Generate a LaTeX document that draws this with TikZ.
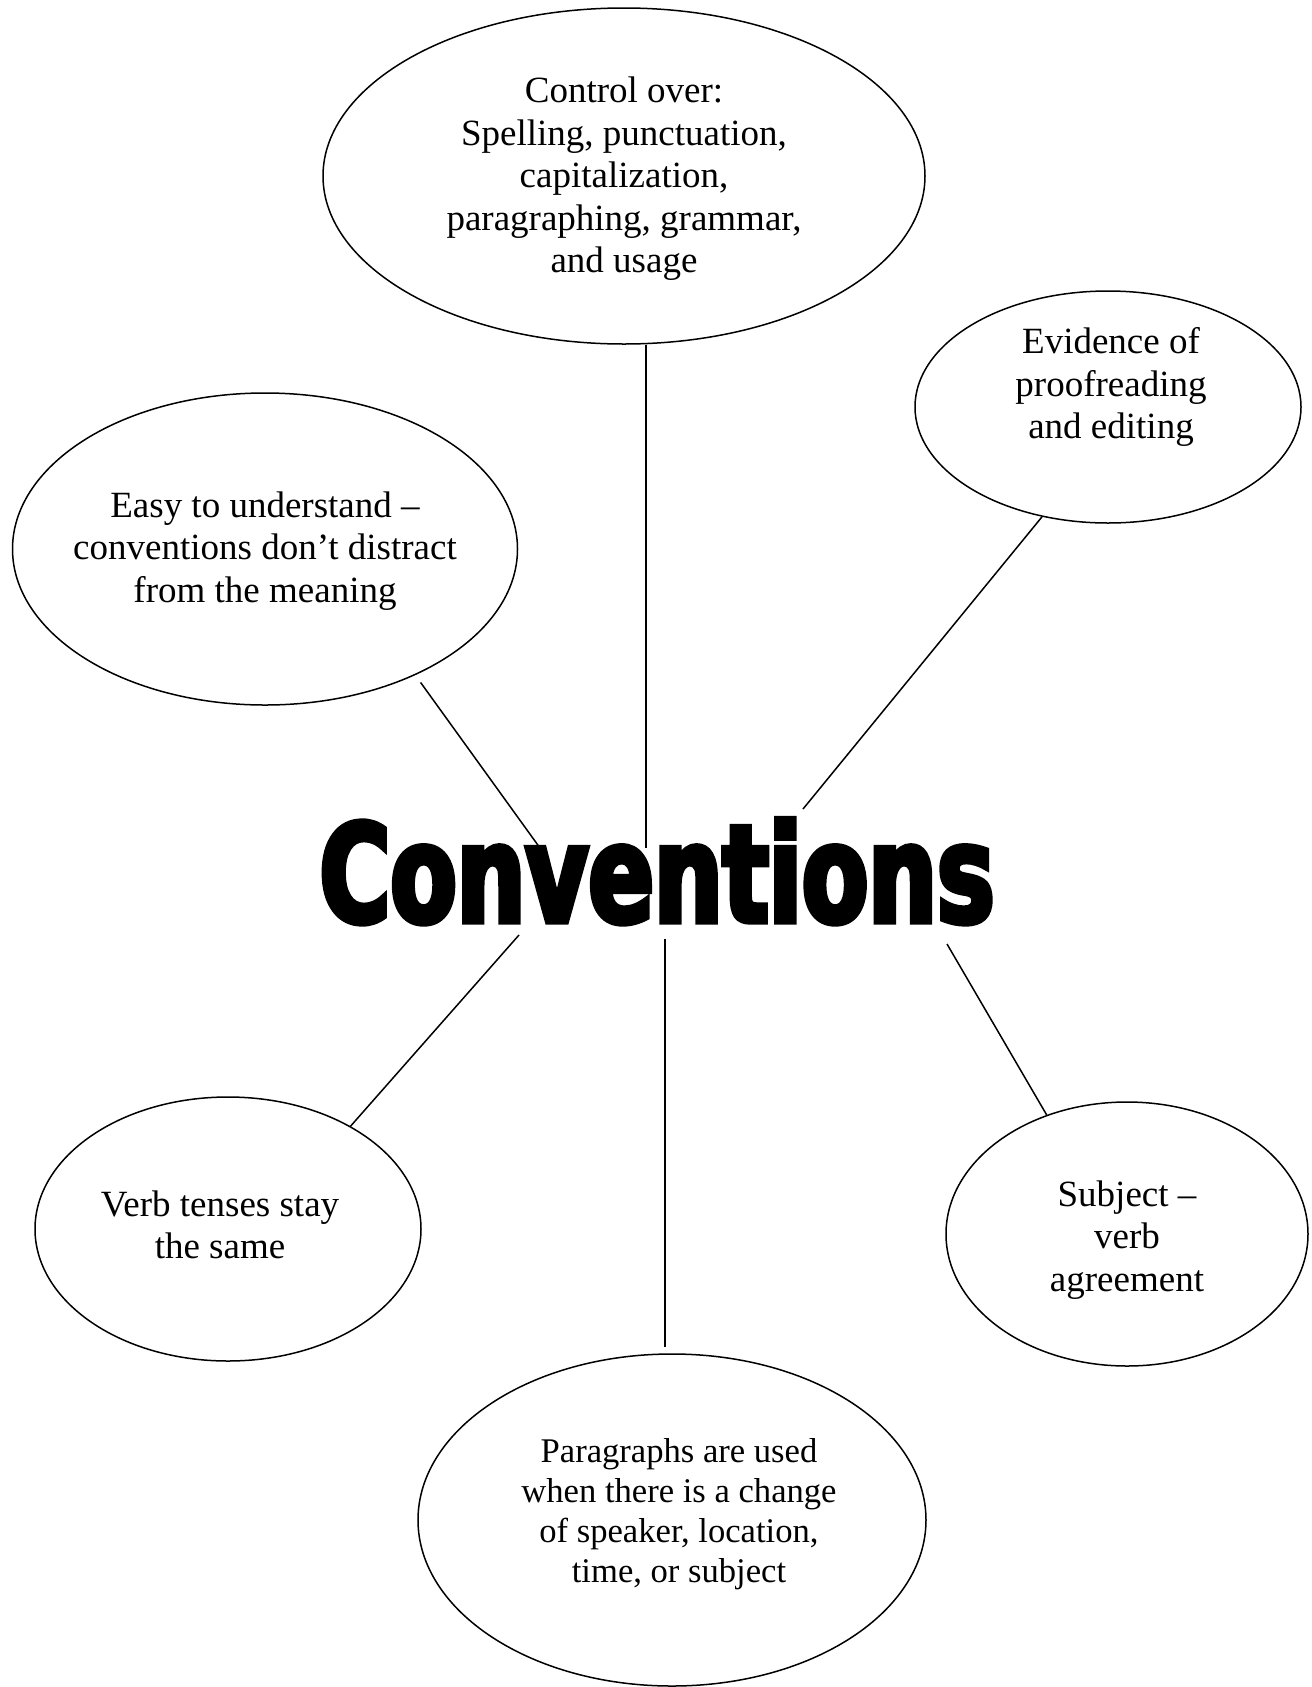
\documentclass[tikz,border=0pt]{standalone}
\usepackage{fontspec}
\setmainfont{Liberation Serif}
\newfontfamily\headfont{DejaVu Sans}[FakeStretch=0.71,FakeBold=4]
\usetikzlibrary{shapes.geometric}

\begin{document}
\begin{tikzpicture}[x=1pt,y=-1pt,
  every path/.style={line width=1.5pt},
  bubble/.style={draw,ellipse,inner sep=0pt},
  words/.style={inner sep=0pt,align=center,font=\fontsize{37}{42.5}\selectfont}]
  \useasboundingbox[fill=white] (0,0) rectangle (1312,1687);

  % bubbles
  \node[bubble,minimum width=602pt,minimum height=336pt] (control) at (624,176) {};
  \node[words] (controlT) at (624,179)
    {Control over:\\Spelling, punctuation,\\capitalization,\\paragraphing, grammar,\\and usage};
  \node[bubble,minimum width=386pt,minimum height=232pt] (proof) at (1108,407) {};
  \node[words] (proofT) at (1111,387) {Evidence of\\proofreading\\and editing};
  \node[bubble,minimum width=505pt,minimum height=312pt] (easy) at (265,549) {};
  \node[words] (easyT) at (265,551)
    {Easy to understand –\\conventions don’t distract\\from the meaning};
  \node[bubble,minimum width=386pt,minimum height=264pt] (verb) at (228,1229) {};
  \node[words] (verbT) at (220,1225) {Verb tenses stay\\the same};
  \node[bubble,minimum width=362pt,minimum height=264pt] (subject) at (1127,1234) {};
  \node[words] (subjectT) at (1127,1240) {Subject –\\verb\\agreement};
  \node[bubble,minimum width=508pt,minimum height=332pt] (para) at (672,1520) {};
  \node[words,font=\fontsize{34.6}{39.8}\selectfont] (paraT) at (679,1514)
    {Paragraphs are used\\when there is a change\\of speaker, location,\\time, or subject};

  % title
  \node[inner sep=0pt,anchor=base,font=\headfont\bfseries\fontsize{136}{140}\selectfont]
    (title) at (657,922) {Conventions};

  \coordinate (cTop) at (646,848);
  \coordinate (cEasy) at (540,848);
  \coordinate (cProof) at (803,809);
  \coordinate (cVerb) at (519,935);
  \coordinate (cPara) at (665,939);
  \coordinate (cSubj) at (947,944);

  % spokes
  \draw (control.south -| cTop) -- (cTop);
  \draw[shorten <=9pt] (easy.-40) -- (cEasy);
  \draw (proof.-121.5) -- (cProof);
  \draw (verb.40) -- (cVerb);
  \draw[shorten >=6pt] (cPara) -- (cPara |- para.north);
  \draw (subject.124) -- (cSubj);
\end{tikzpicture}
\end{document}
